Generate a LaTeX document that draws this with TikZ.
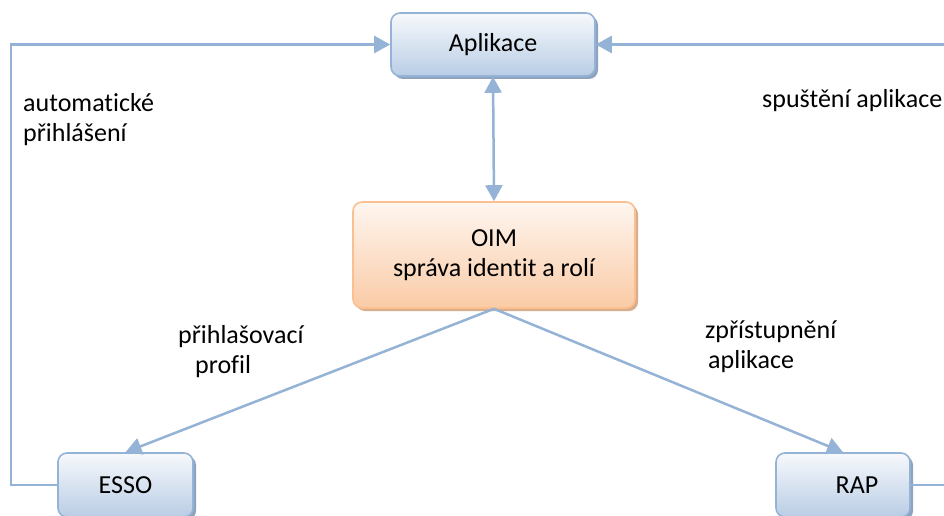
\documentclass[tikz,border=0pt]{standalone}
\usepackage{fontspec}
\setmainfont{Carlito}[Ligatures=NoCommon]
\usetikzlibrary{arrows.meta,shadows}
\definecolor{bline}{HTML}{95B3D7}
\definecolor{btop}{HTML}{F7F9FC}
\definecolor{bbot}{HTML}{B9CDE5}
\definecolor{bshad}{HTML}{8FA3BE}
\definecolor{oline}{HTML}{FAC090}
\definecolor{otop}{HTML}{FEF6F0}
\definecolor{obot}{HTML}{FACBA6}
\definecolor{oshad}{HTML}{D8AE8C}
\tikzset{
  bluebox/.style={draw=bline, line width=1.6pt, rounded corners=9pt,
    top color=btop, bottom color=bbot, align=center,
    drop shadow={shadow xshift=3pt, shadow yshift=-3pt, fill=bshad, opacity=1}},
  orangebox/.style={draw=oline, line width=1.6pt, rounded corners=9pt,
    top color=otop, bottom color=obot, align=center,
    drop shadow={shadow xshift=3pt, shadow yshift=-3pt, fill=oshad, opacity=1}},
  conn/.style={draw=bline, line width=2.5pt},
  tip/.style={-{Triangle[length=16pt,width=17pt]}},
  lbl/.style={anchor=base west, inner sep=0pt, align=left}
}
\begin{document}
\begin{tikzpicture}[x=1pt,y=-1pt, font=\fontsize{26}{30}\selectfont]
\useasboundingbox (0,0) rectangle (944,516);
\fill[white] (0,0) rectangle (944,516);
% nodes
\node[bluebox, minimum width=204pt, minimum height=63pt] (apl) at (493,44.5) {Aplikace};
\node[orangebox, minimum width=282pt, minimum height=106pt] (oim) at (494,255) {OIM\\správa identit a rolí};
\node[bluebox, minimum width=135pt, minimum height=64pt] (esso) at (125.5,485) {ESSO};
\node[bluebox, minimum width=134pt, minimum height=64pt] (rap) at (843,485) {\hspace*{28pt}RAP};
% coordinates
\coordinate (lc) at (11,44.5);
\coordinate (rc) at (950,44.5);
% connectors
\draw[conn, tip] (esso.west) -| (lc) -- (apl.west);
\draw[conn, tip] (rap.east) -| (rc) -- (apl.east);
\draw[conn, {Triangle[length=16pt,width=17pt]}-{Triangle[length=16pt,width=17pt]}] (apl.south) -- (oim.north);
\draw[conn, tip] (oim.south) -- (esso.north);
\draw[conn, tip] (oim.south) -- (rap.north);
% labels
\node[lbl] (l1) at (23,111) {automatické};
\node[lbl] (l2) at (23,141) {přihlášení};
\node[lbl] (l3) at (762,107) {spuštění aplikace};
\node[lbl] (l4) at (178,343) {přihlašovací};
\node[lbl] (l5) at (195,373) {profil};
\node[lbl] (l6) at (705,338) {zpřístupnění};
\node[lbl] (l7) at (708,368) {aplikace};
\end{tikzpicture}
\end{document}
